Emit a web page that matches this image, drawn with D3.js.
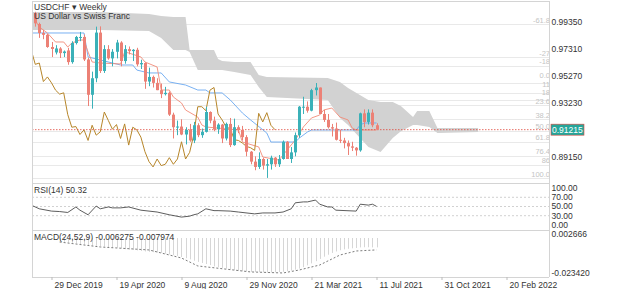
<!DOCTYPE html>
<html lang="en">
<head>
<meta charset="UTF-8">
<script src="https://d3js.org/d3.v7.min.js"></script>
<title>USDCHF Weekly</title>
<style>
  body { margin: 0; background: #fff; }
  svg { display: block; font-family: "Liberation Sans", Arial, sans-serif; }
</style>
</head>
<body>
<div id="chart"></div>
<script>
// weekly candles: date, open, high, low, close
const candles = [
  ["2019-12-01", 1.0003, 1.0012, 0.9900, 0.9925],
  ["2019-12-08", 0.9920, 0.9930, 0.9815, 0.9852],
  ["2019-12-15", 0.9852, 0.9875, 0.9805, 0.9838],
  ["2019-12-22", 0.9838, 0.9845, 0.9740, 0.9746],
  ["2019-12-29", 0.9746, 0.9784, 0.9670, 0.9731],
  ["2020-01-05", 0.9705, 0.9760, 0.9690, 0.9735],
  ["2020-01-12", 0.9735, 0.9745, 0.9663, 0.9700],
  ["2020-01-19", 0.9700, 0.9720, 0.9670, 0.9712],
  ["2020-01-26", 0.9720, 0.9740, 0.9612, 0.9632],
  ["2020-02-02", 0.9632, 0.9790, 0.9620, 0.9776],
  ["2020-02-09", 0.9776, 0.9830, 0.9765, 0.9822],
  ["2020-02-16", 0.9815, 0.9860, 0.9790, 0.9822],
  ["2020-02-23", 0.9822, 0.9840, 0.9640, 0.9652],
  ["2020-03-01", 0.9652, 0.9665, 0.9300, 0.9385],
  ["2020-03-08", 0.9385, 0.9560, 0.9280, 0.9510],
  ["2020-03-15", 0.9510, 0.9900, 0.9480, 0.9855],
  ["2020-03-22", 0.9855, 0.9902, 0.9550, 0.9565],
  ["2020-03-29", 0.9565, 0.9760, 0.9550, 0.9730],
  ["2020-04-05", 0.9730, 0.9760, 0.9650, 0.9660],
  ["2020-04-12", 0.9660, 0.9730, 0.9600, 0.9710],
  ["2020-04-19", 0.9710, 0.9800, 0.9660, 0.9780],
  ["2020-04-26", 0.9780, 0.9790, 0.9600, 0.9640],
  ["2020-05-03", 0.9640, 0.9760, 0.9620, 0.9730],
  ["2020-05-10", 0.9730, 0.9750, 0.9690, 0.9715],
  ["2020-05-17", 0.9715, 0.9730, 0.9640, 0.9725],
  ["2020-05-24", 0.9725, 0.9740, 0.9600, 0.9615],
  ["2020-05-31", 0.9615, 0.9650, 0.9580, 0.9625],
  ["2020-06-07", 0.9625, 0.9630, 0.9430, 0.9485],
  ["2020-06-14", 0.9485, 0.9590, 0.9450, 0.9520],
  ["2020-06-21", 0.9520, 0.9530, 0.9440, 0.9475],
  ["2020-06-28", 0.9475, 0.9510, 0.9420, 0.9420],
  ["2020-07-05", 0.9420, 0.9470, 0.9360, 0.9390],
  ["2020-07-12", 0.9390, 0.9445, 0.9380, 0.9400],
  ["2020-07-19", 0.9400, 0.9410, 0.9225, 0.9235],
  ["2020-07-26", 0.9235, 0.9250, 0.9055, 0.9140],
  ["2020-08-02", 0.9140, 0.9190, 0.9080, 0.9145],
  ["2020-08-09", 0.9145, 0.9200, 0.9080, 0.9085],
  ["2020-08-16", 0.9085, 0.9140, 0.9010, 0.9120],
  ["2020-08-23", 0.9120, 0.9165, 0.9030, 0.9040],
  ["2020-08-30", 0.9040, 0.9180, 0.9020, 0.9155],
  ["2020-09-06", 0.9155, 0.9170, 0.9065, 0.9080],
  ["2020-09-13", 0.9080, 0.9130, 0.9060, 0.9105],
  ["2020-09-20", 0.9105, 0.9295, 0.9100, 0.9255],
  ["2020-09-27", 0.9255, 0.9260, 0.9170, 0.9190],
  ["2020-10-04", 0.9190, 0.9220, 0.9110, 0.9125],
  ["2020-10-11", 0.9125, 0.9170, 0.9090, 0.9160],
  ["2020-10-18", 0.9160, 0.9165, 0.9020, 0.9055],
  ["2020-10-25", 0.9055, 0.9175, 0.9040, 0.9165],
  ["2020-11-01", 0.9165, 0.9210, 0.8990, 0.9005],
  ["2020-11-08", 0.9005, 0.9205, 0.9000, 0.9140],
  ["2020-11-15", 0.9140, 0.9155, 0.9095, 0.9120],
  ["2020-11-22", 0.9120, 0.9150, 0.9040, 0.9065],
  ["2020-11-29", 0.9065, 0.9080, 0.8920, 0.8955],
  ["2020-12-06", 0.8955, 0.8960, 0.8860, 0.8880],
  ["2020-12-13", 0.8880, 0.8920, 0.8815, 0.8840],
  ["2020-12-20", 0.8840, 0.8950, 0.8825, 0.8900],
  ["2020-12-27", 0.8900, 0.8910, 0.8820, 0.8850],
  ["2021-01-03", 0.8850, 0.8900, 0.8757, 0.8860],
  ["2021-01-10", 0.8860, 0.8925, 0.8820, 0.8910],
  ["2021-01-17", 0.8910, 0.8915, 0.8840, 0.8860],
  ["2021-01-24", 0.8860, 0.8930, 0.8840, 0.8900],
  ["2021-01-31", 0.8900, 0.9040, 0.8895, 0.9030],
  ["2021-02-07", 0.9030, 0.9035, 0.8900, 0.8900],
  ["2021-02-14", 0.8900, 0.8990, 0.8870, 0.8950],
  ["2021-02-21", 0.8950, 0.9100, 0.8920, 0.9080],
  ["2021-02-28", 0.9080, 0.9300, 0.9060, 0.9295],
  ["2021-03-07", 0.9295, 0.9370, 0.9240, 0.9295],
  ["2021-03-14", 0.9295, 0.9335, 0.9250, 0.9265],
  ["2021-03-21", 0.9265, 0.9430, 0.9260, 0.9420],
  ["2021-03-28", 0.9420, 0.9474, 0.9380, 0.9440],
  ["2021-04-04", 0.9440, 0.9440, 0.9240, 0.9240],
  ["2021-04-11", 0.9240, 0.9270, 0.9180, 0.9195],
  ["2021-04-18", 0.9195, 0.9240, 0.9130, 0.9140],
  ["2021-04-25", 0.9140, 0.9165, 0.9070, 0.9130],
  ["2021-05-02", 0.9130, 0.9175, 0.9040, 0.9045],
  ["2021-05-09", 0.9045, 0.9120, 0.9020, 0.9040],
  ["2021-05-16", 0.9040, 0.9060, 0.8980, 0.9020],
  ["2021-05-23", 0.9020, 0.9040, 0.8930, 0.8995],
  ["2021-05-30", 0.8995, 0.9030, 0.8960, 0.8985],
  ["2021-06-06", 0.8985, 0.8990, 0.8925, 0.8965],
  ["2021-06-13", 0.8965, 0.9250, 0.8955, 0.9245],
  ["2021-06-20", 0.9245, 0.9275, 0.9140, 0.9180],
  ["2021-06-27", 0.9180, 0.9275, 0.9160, 0.9250],
  ["2021-07-04", 0.9250, 0.9275, 0.9140, 0.9155],
  ["2021-07-11", 0.9155, 0.9170, 0.9120, 0.91215]
];

// ichimoku lines: date, price
const conversionLine = [
  ["2019-12-01", 0.9950], ["2019-12-08", 0.9897], ["2019-12-22", 0.9852], ["2020-01-05", 0.9784],
  ["2020-01-19", 0.9784], ["2020-01-26", 0.9746], ["2020-02-02", 0.9776], ["2020-02-16", 0.9799],
  ["2020-02-23", 0.9799], ["2020-03-01", 0.9708], ["2020-03-08", 0.9633], ["2020-03-22", 0.9625],
  ["2020-04-26", 0.9618], ["2020-05-03", 0.9708], ["2020-05-10", 0.9701], ["2020-05-31", 0.9671],
  ["2020-06-07", 0.9633], ["2020-06-28", 0.9595], ["2020-07-05", 0.9421], ["2020-07-19", 0.9421],
  ["2020-07-26", 0.9368], ["2020-08-09", 0.9323], ["2020-08-16", 0.9270], ["2020-09-06", 0.9217],
  ["2020-09-13", 0.9157], ["2020-09-20", 0.9142], ["2020-11-15", 0.9119], ["2020-11-22", 0.9028],
  ["2020-12-20", 0.8991], ["2020-12-27", 0.8915], ["2021-01-24", 0.8892], ["2021-01-31", 0.8930],
  ["2021-02-14", 0.9006], ["2021-02-21", 0.9043], ["2021-03-07", 0.9142], ["2021-03-21", 0.9210],
  ["2021-04-04", 0.9232], ["2021-04-11", 0.9270], ["2021-04-25", 0.9285], ["2021-05-09", 0.9217],
  ["2021-05-23", 0.9195], ["2021-05-30", 0.9134], ["2021-06-06", 0.9119], ["2021-07-11", 0.9119]
];

const baseLine = [
  ["2019-11-24", 0.9852], ["2020-02-23", 0.9852], ["2020-03-01", 0.9671], ["2020-03-22", 0.9648],
  ["2020-04-26", 0.9610], ["2020-05-17", 0.9610], ["2020-05-24", 0.9572], ["2020-06-07", 0.9557],
  ["2020-06-14", 0.9550], ["2020-07-05", 0.9550], ["2020-07-19", 0.9482], ["2020-08-16", 0.9459],
  ["2020-09-06", 0.9421], ["2020-09-20", 0.9421], ["2020-09-27", 0.9399], ["2020-10-18", 0.9399],
  ["2020-11-01", 0.9346], ["2020-11-22", 0.9247], ["2020-12-06", 0.9195], ["2021-01-03", 0.9096],
  ["2021-01-10", 0.9028], ["2021-02-21", 0.9028], ["2021-02-28", 0.9058], ["2021-03-14", 0.9104],
  ["2021-03-21", 0.9119], ["2021-06-06", 0.9119], ["2021-06-13", 0.9157], ["2021-06-20", 0.9172],
  ["2021-07-11", 0.9172]
];

// cloud (leading spans, already shifted forward): date, upper, lower
const cloud = [
  ["2019-11-24", 1.0011, 0.9875], ["2020-03-22", 1.0011, 0.9875], ["2020-06-14", 0.9995, 0.9867],
  ["2020-07-05", 0.9980, 0.9814], ["2020-07-26", 0.9973, 0.9723], ["2020-08-16", 0.9973, 0.9723],
  ["2020-08-23", 0.9723, 0.9708], ["2020-09-06", 0.9723, 0.9572], ["2020-10-04", 0.9723, 0.9572],
  ["2020-10-11", 0.9655, 0.9572], ["2020-10-18", 0.9640, 0.9572], ["2020-11-08", 0.9633, 0.9557],
  ["2020-12-06", 0.9633, 0.9535], ["2020-12-20", 0.9535, 0.9444], ["2021-01-03", 0.9519, 0.9368],
  ["2021-04-18", 0.9512, 0.9346], ["2021-05-09", 0.9482, 0.9210], ["2021-05-23", 0.9436, 0.9157],
  ["2021-06-27", 0.9346, 0.8991], ["2021-07-18", 0.9330, 0.8953], ["2021-08-08", 0.9330, 0.9059],
  ["2021-08-22", 0.9300, 0.9110], ["2021-09-12", 0.9217, 0.9157], ["2021-09-19", 0.9262, 0.9157],
  ["2021-10-10", 0.9262, 0.9142], ["2021-10-24", 0.9134, 0.9096], ["2022-01-02", 0.9134, 0.9104]
];

const lagWeeks = 25;

const rsi = [
  ["2019-11-24", 53], ["2019-12-08", 45], ["2019-12-29", 40], ["2020-01-12", 39], ["2020-01-26", 37],
  ["2020-02-09", 49], ["2020-02-16", 42], ["2020-03-01", 32], ["2020-03-15", 51], ["2020-03-22", 45],
  ["2020-04-05", 49], ["2020-04-12", 47], ["2020-04-26", 47], ["2020-05-10", 49], ["2020-05-31", 42],
  ["2020-06-14", 40], ["2020-06-28", 38], ["2020-07-19", 32], ["2020-08-09", 27], ["2020-08-23", 29],
  ["2020-08-30", 32], ["2020-09-06", 34], ["2020-09-20", 45], ["2020-10-04", 41], ["2020-10-11", 41],
  ["2020-11-01", 40], ["2020-11-15", 38], ["2020-12-13", 34], ["2020-12-27", 36], ["2021-01-17", 36],
  ["2021-01-31", 38], ["2021-02-14", 45], ["2021-02-21", 58], ["2021-03-07", 60], ["2021-03-14", 60],
  ["2021-03-28", 64], ["2021-04-04", 55], ["2021-04-18", 49], ["2021-04-25", 49], ["2021-05-02", 42],
  ["2021-06-06", 40], ["2021-06-13", 55], ["2021-06-27", 53], ["2021-07-04", 55], ["2021-07-11", 50.32]
];
const rsiLevels = [70, 50, 30];
const rsiTicks = ["100.00", "70.00", "50.00", "30.00", "0.00"];

// MACD(24,52,9) histogram, one bar per week from 2020-01-12
const macdStart = "2020-01-12";
const macd = [
  -0.0020, -0.0025, -0.0030, -0.0032, -0.0035, -0.0040, -0.0043, -0.0047, -0.0050, -0.0052,
  -0.0054, -0.0057, -0.0060, -0.0062, -0.0065, -0.0070, -0.0075, -0.0078, -0.0080, -0.0083,
  -0.0087, -0.0090, -0.0093, -0.0095, -0.0098, -0.0100, -0.0105, -0.0110, -0.0115, -0.0120,
  -0.0127, -0.0135, -0.0143, -0.0152, -0.0160, -0.0167, -0.0174, -0.0181, -0.0190, -0.0196,
  -0.0200, -0.0205, -0.0212, -0.0216, -0.0220, -0.0223, -0.0225, -0.0227, -0.0228, -0.0229,
  -0.0230, -0.0231, -0.0231, -0.0230, -0.0228, -0.0226, -0.0222, -0.0218, -0.0212, -0.0205,
  -0.0195, -0.0183, -0.0170, -0.0155, -0.0140, -0.0125, -0.0112, -0.0100, -0.0090, -0.0082,
  -0.0076, -0.0072, -0.0069, -0.0067, -0.0063, -0.0062, -0.0062, -0.0063, -0.006275
];
const signal = [
  ["2020-01-12", -0.0027], ["2020-03-22", -0.0060], ["2020-06-14", -0.0080], ["2020-08-09", -0.0134],
  ["2020-09-06", -0.0187], ["2020-12-06", -0.0227], ["2021-01-31", -0.0234], ["2021-02-28", -0.0214],
  ["2021-03-21", -0.0194], ["2021-04-04", -0.0181], ["2021-05-09", -0.0114], ["2021-06-06", -0.0087],
  ["2021-07-11", -0.007974]
];

const priceTicks = [0.99350, 0.97310, 0.95270, 0.93230, 0.89150];
const lastPrice = 0.91215;
const fibHigh = 0.94741, fibLow = 0.87563;
const fibLevels = [[-61.8, "-61.8"], [-27.2, "-27"], [-18, "-18"], [0, "0.0"], [11, "11"], [18, "18"],
  [23.6, "23.6"], [38.2, "38.2"], [50, "50.0"], [61.8, "61.8"], [76.4, "76.4"], [86, "86"], [100, "100.0"]];
const macdTicks = [0.002666, -0.023420];
const xTickLabels = ["29 Dec 2019", "19 Apr 2020", "9 Aug 2020", "29 Nov 2020", "21 Mar 2021", "11 Jul 2021", "31 Oct 2021", "20 Feb 2022"];

const width = 625, height = 289;
const left = 32, right = 549;
const mainTop = 1, mainBottom = 183, rsiBottom = 230, macdBottom = 277;
const upColor = "#3bb1b8", downColor = "#ec8176";

const parseDate = d3.utcParse("%Y-%m-%d");
const parseTick = d3.utcParse("%d %b %Y");

const x = d3.scaleUtc()
  .domain([parseDate("2019-12-29"), parseDate("2022-02-20")])
  .range([51.5, 506.5]);
const y = d3.scaleLinear().domain([0.8915, 0.9935]).range([157, 22]);
const yRsi = d3.scaleLinear().domain([0, 100]).range([229.5, 183.5]);
const yMacd = d3.scaleLinear().domain([-0.02342, 0.002666]).range([273, 234]);

const svg = d3.select("#chart").append("svg")
  .attr("width", width)
  .attr("height", height);

const defs = svg.append("defs");
defs.append("clipPath").attr("id", "clip-main")
  .append("rect").attr("x", left).attr("y", mainTop).attr("width", right - left).attr("height", mainBottom - mainTop);
defs.append("clipPath").attr("id", "clip-rsi")
  .append("rect").attr("x", left).attr("y", mainBottom).attr("width", right - left).attr("height", rsiBottom - mainBottom);
defs.append("clipPath").attr("id", "clip-macd")
  .append("rect").attr("x", left).attr("y", rsiBottom).attr("width", right - left).attr("height", macdBottom - rsiBottom);

// ---- main pane ----
const main = svg.append("g").attr("clip-path", "url(#clip-main)");

const fibY = lvl => y(fibHigh - (fibHigh - fibLow) * lvl / 100);

main.selectAll("line.fib").data(fibLevels).join("line")
  .attr("class", "fib")
  .attr("x1", left).attr("x2", right)
  .attr("y1", d => Math.round(fibY(d[0])) + 0.5)
  .attr("y2", d => Math.round(fibY(d[0])) + 0.5)
  .attr("stroke", "#e9e9e9");

main.append("path")
  .datum(cloud)
  .attr("fill", "#d2d2d2")
  .attr("d", d3.area()
    .x(d => x(parseDate(d[0])))
    .y0(d => y(d[2]))
    .y1(d => y(d[1])));

// fib labels sit just above their lines; push a label up when it would touch the one below
const fibLabelY = fibLevels.map(d => fibY(d[0]) - 1.5);
for (let i = fibLabelY.length - 2; i >= 0; i--) {
  if (fibLabelY[i + 1] - fibLabelY[i] < 8.5) fibLabelY[i] = fibLabelY[i + 1] - 8.5;
}
main.selectAll("text.fib").data(fibLevels).join("text")
  .attr("class", "fib")
  .attr("x", 550)
  .attr("y", (d, i) => fibLabelY[i])
  .attr("text-anchor", "end")
  .attr("font-size", 7.5)
  .attr("fill", "#c4c4c4")
  .text(d => d[1]);

const lineOf = (sc) => d3.line().x(d => x(parseDate(d[0]))).y(d => sc(d[1]));

main.append("path").datum(baseLine)
  .attr("fill", "none").attr("stroke", "#6aa8f0").attr("stroke-width", 0.9)
  .attr("d", lineOf(y));

main.append("path").datum(conversionLine)
  .attr("fill", "none").attr("stroke", "#f28b78").attr("stroke-width", 0.9)
  .attr("d", lineOf(y));

// lagging span: closes moved back
const lagging = candles.map(c => [d3.utcFormat("%Y-%m-%d")(d3.utcWeek.offset(parseDate(c[0]), -lagWeeks)), c[4]]);
main.append("path").datum(lagging)
  .attr("fill", "none").attr("stroke", "#b7862a").attr("stroke-width", 1)
  .attr("d", lineOf(y));

// last price line
main.append("line")
  .attr("x1", left).attr("x2", right)
  .attr("y1", y(lastPrice)).attr("y2", y(lastPrice))
  .attr("stroke", "#e0473c").attr("stroke-width", 0.8)
  .attr("stroke-dasharray", "1.5,1.5");

const candleG = main.selectAll("g.candle").data(candles).join("g").attr("class", "candle");
candleG.append("line")
  .attr("x1", d => Math.round(x(parseDate(d[0]))) + 0.5)
  .attr("x2", d => Math.round(x(parseDate(d[0]))) + 0.5)
  .attr("y1", d => y(d[2])).attr("y2", d => y(d[3]))
  .attr("stroke", d => d[4] >= d[1] ? upColor : downColor);
candleG.append("rect")
  .attr("x", d => Math.round(x(parseDate(d[0]))) - 1)
  .attr("width", 3)
  .attr("y", d => y(Math.max(d[1], d[4])))
  .attr("height", d => Math.max(1, Math.abs(y(d[1]) - y(d[4]))))
  .attr("fill", d => d[4] >= d[1] ? upColor : downColor);

// ---- RSI pane ----
const rsiG = svg.append("g").attr("clip-path", "url(#clip-rsi)");
rsiG.selectAll("line").data(rsiLevels).join("line")
  .attr("x1", left).attr("x2", right)
  .attr("y1", d => yRsi(d)).attr("y2", d => yRsi(d))
  .attr("stroke", "#bdbdbd").attr("stroke-width", 0.7).attr("stroke-dasharray", "2,2");
rsiG.append("path").datum(rsi)
  .attr("fill", "none").attr("stroke", "#333").attr("stroke-width", 0.8)
  .attr("d", lineOf(yRsi));

// ---- MACD pane ----
const macdG = svg.append("g").attr("clip-path", "url(#clip-macd)");
macdG.selectAll("line.bar").data(macd).join("line")
  .attr("class", "bar")
  .attr("x1", (d, i) => Math.round(x(d3.utcWeek.offset(parseDate(macdStart), i))) + 0.5)
  .attr("x2", (d, i) => Math.round(x(d3.utcWeek.offset(parseDate(macdStart), i))) + 0.5)
  .attr("y1", yMacd(0)).attr("y2", d => yMacd(d))
  .attr("stroke", "#d6d6d6").attr("stroke-width", 1);
macdG.append("path").datum(signal)
  .attr("fill", "none").attr("stroke", "#444").attr("stroke-width", 0.7)
  .attr("stroke-dasharray", "2,2")
  .attr("d", lineOf(yMacd));

// ---- frames ----
const frame = svg.append("g").attr("stroke", "#d4d4d4").attr("fill", "none");
frame.append("line").attr("x1", left).attr("x2", right).attr("y1", mainTop + 0.5).attr("y2", mainTop + 0.5);
[mainBottom, rsiBottom].forEach(v => {
  frame.append("line").attr("x1", left).attr("x2", right).attr("y1", v + 0.5).attr("y2", v + 0.5);
});
frame.append("line").attr("x1", left + 0.5).attr("x2", left + 0.5).attr("y1", mainTop).attr("y2", macdBottom);
frame.append("line").attr("x1", right + 0.5).attr("x2", right + 0.5).attr("y1", mainTop).attr("y2", macdBottom);

// ---- x axis ----
const xAxis = svg.append("g")
  .attr("transform", `translate(0,${macdBottom})`)
  .call(d3.axisBottom(x)
    .tickValues(xTickLabels.map(parseTick))
    .tickFormat(d3.utcFormat("%-d %b %Y"))
    .tickSize(3)
    .tickSizeOuter(0));
xAxis.select(".domain").attr("stroke", "#d4d4d4").attr("d", `M${left},0.5H${right}`);
xAxis.selectAll(".tick line").attr("stroke", "#bbb");
xAxis.selectAll(".tick text")
  .attr("text-anchor", "start")
  .attr("dx", 2.5)
  .attr("y", 5)
  .attr("dy", "0.71em")
  .attr("font-size", 8.5)
  .attr("font-family", "Liberation Sans, Arial, sans-serif")
  .attr("fill", "#333");

// ---- right labels ----
const labelX = 551.5;
svg.selectAll("text.price").data(priceTicks).join("text")
  .attr("class", "price")
  .attr("x", labelX).attr("y", d => y(d))
  .attr("dy", "0.35em")
  .attr("font-size", 8.5).attr("fill", "#333")
  .text(d => d.toFixed(5));

svg.append("rect")
  .attr("x", 551).attr("y", y(lastPrice) - 5.5)
  .attr("width", 33).attr("height", 11)
  .attr("fill", "#26a69a").attr("stroke", "#e0473c").attr("stroke-width", 0.6);
svg.append("text")
  .attr("x", labelX + 0.5).attr("y", y(lastPrice))
  .attr("dy", "0.35em")
  .attr("font-size", 8.5).attr("fill", "#fff")
  .text(lastPrice.toFixed(5));

svg.selectAll("text.rsi").data(rsiTicks).join("text")
  .attr("class", "rsi")
  .attr("x", labelX)
  .attr("y", d => Math.min(225, Math.max(188, yRsi(+d))))
  .attr("dy", "0.35em")
  .attr("font-size", 8.5).attr("fill", "#333")
  .text(d => d);

svg.selectAll("text.macd").data(macdTicks).join("text")
  .attr("class", "macd")
  .attr("x", labelX).attr("y", d => yMacd(d))
  .attr("dy", "0.35em")
  .attr("font-size", 8.5).attr("fill", "#333")
  .text(d => d.toFixed(6));

// ---- titles ----
svg.append("text").attr("x", 34).attr("y", 10)
  .attr("font-size", 8.5).attr("fill", "#333")
  .text("USDCHF ▾ Weekly");
svg.append("text").attr("x", 34).attr("y", 19)
  .attr("font-size", 8.5).attr("fill", "#333")
  .text("US Dollar vs Swiss Franc");
svg.append("text").attr("x", 34).attr("y", 193)
  .attr("font-size", 8.5).attr("fill", "#333")
  .text("RSI(14) 50.32");
svg.append("text").attr("x", 34).attr("y", 240)
  .attr("font-size", 8.5).attr("fill", "#333")
  .text("MACD(24,52,9) -0.006275 -0.007974");
</script>
</body>
</html>
